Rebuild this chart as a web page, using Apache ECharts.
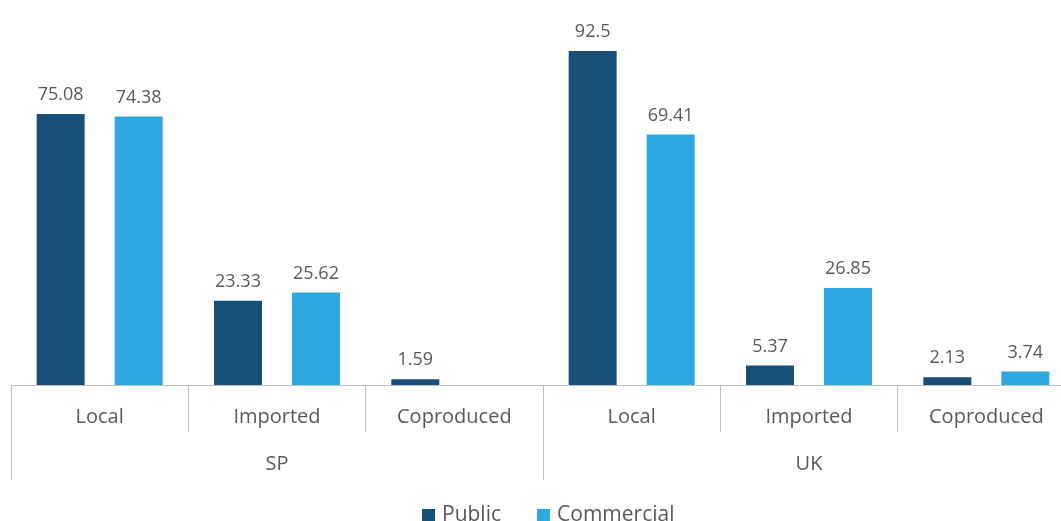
<!DOCTYPE html>
<html>
<head>
<meta charset="utf-8">
<script src="https://cdn.jsdelivr.net/npm/echarts@6/dist/echarts.min.js"></script>
<style>
html,body{margin:0;padding:0;background:#fff;}
#chart{width:1061px;height:521px;}
</style>
</head>
<body>
<div id="chart"></div>
<script>
// Content origin shares by broadcaster type
const categories = ['Local', 'Imported', 'Coproduced', 'Local', 'Imported', 'Coproduced'];
const groups = ['SP', 'UK'];
const publicValues = [75.08, 23.33, 1.59, 92.5, 5.37, 2.13];
const commercialValues = [74.38, 25.62, null, 69.41, 26.85, 3.74];

const textColor = '#595959';
const lineColor = '#bfbfbf';
const font = 'Open Sans';

const chart = echarts.init(document.getElementById('chart'));

const labelOpt = {
  show: true,
  position: 'top',
  distance: 10,
  color: textColor,
  fontFamily: font,
  fontSize: 18
};

chart.setOption({
  animation: false,
  textStyle: { fontFamily: font },
  grid: {
    left: 11, top: 24, width: 1064, height: 361,
    containLabel: false,
    outerBoundsMode: 'none'
  },
  legend: {
    bottom: -10,
    left: 417,
    itemWidth: 13,
    itemHeight: 13,
    itemGap: 36,
    icon: 'rect',
    textStyle: { color: textColor, fontFamily: font, fontSize: 21, padding: [0, 0, 0, 2] },
    data: ['Public', 'Commercial']
  },
  xAxis: [
    {
      type: 'category',
      data: categories,
      position: 'bottom',
      axisLine: { show: true, lineStyle: { color: lineColor, width: 1 } },
      axisTick: { show: true, length: 47, interval: 0, lineStyle: { color: lineColor } },
      axisLabel: { color: textColor, fontFamily: font, fontSize: 20, margin: 22, interval: 0 }
    },
    {
      type: 'category',
      data: groups,
      position: 'bottom',
      axisLine: { show: false },
      axisTick: { show: true, length: 95, interval: 0, lineStyle: { color: lineColor } },
      axisLabel: { color: textColor, fontFamily: font, fontSize: 20, margin: 69, interval: 0 }
    }
  ],
  yAxis: { type: 'value', min: 0, max: 100, show: false, splitLine: { show: false } },
  series: [
    {
      name: 'Public',
      type: 'bar',
      xAxisIndex: 0,
      data: publicValues,
      barWidth: 48,
      barGap: '62.5%',
      itemStyle: { color: '#174f78' },
      label: labelOpt
    },
    {
      name: 'Commercial',
      type: 'bar',
      xAxisIndex: 0,
      data: commercialValues,
      barWidth: 48,
      barGap: '62.5%',
      itemStyle: { color: '#2ea8e0' },
      label: labelOpt
    }
  ]
});
</script>
</body>
</html>
